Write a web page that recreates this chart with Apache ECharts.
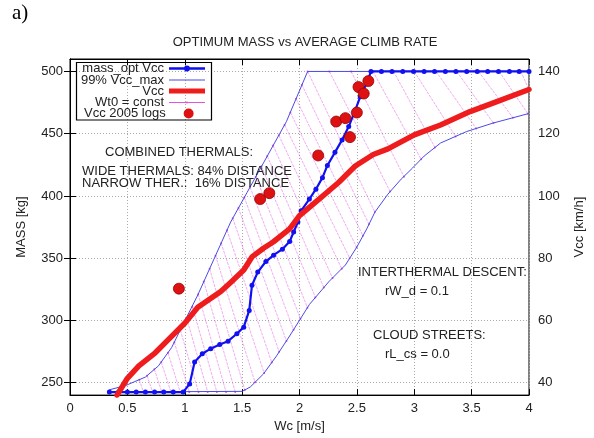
<!DOCTYPE html>
<html><head><meta charset="utf-8">
<script src="https://cdn.jsdelivr.net/npm/echarts@6/dist/echarts.min.js"></script>
<style>html,body{margin:0;padding:0;background:#fff}#c{width:594px;height:438px}</style>
</head><body><div id="c"></div><script>
// ---- data ----
const massTicks = [250, 300, 350, 400, 450, 500];
const vccTicks = [40, 60, 80, 100, 120, 140];
// mass_opt Vcc  [Wc m/s, mass kg]
const massOpt = [[0.343,242.4],[0.423,242.4],[0.5,242.4],[0.577,242.4],[0.657,242.4],[0.737,242.4],[0.817,242.4],[0.9,242.4],[0.986,242.4],[1.043,249],[1.086,266.5],[1.153,273.2],[1.226,277.3],[1.305,280.7],[1.377,283.3],[1.454,289.3],[1.514,294.6],[1.562,308],[1.586,328.3],[1.636,338.8],[1.707,347.3],[1.774,352.4],[1.851,357.2],[1.914,363.3],[1.949,371],[1.986,379],[2.014,388],[2.086,397.5],[2.143,405.4],[2.2,414.7],[2.243,424.5],[2.309,435],[2.371,445],[2.429,455.7],[2.486,469],[2.529,479.6],[2.586,490.7],[2.623,500],[2.714,500],[2.806,500],[2.9,500],[2.994,500],[3.086,500],[3.177,500],[3.271,500],[3.363,500],[3.457,500],[3.549,500],[3.64,500],[3.734,500],[3.829,500],[3.914,500],[4.0,500]];
// 99% Vcc_max band  [Wc, km/h]
const vmaxUpper = [[0.343,37.7],[0.486,39.1],[0.657,41.8],[0.771,45.4],[0.886,51.3],[1.0,59.8],[1.114,68.2],[1.257,79.9],[1.4,91.6],[1.543,101.1],[1.686,110.6],[1.886,123.9],[2.071,140],[4.0,140]];
const vmaxLower = [[0.343,37.7],[0.343,37.0],[1.5,37.2],[1.571,38.6],[1.686,42.8],[1.8,48.6],[1.914,55.0],[2.086,65.1],[2.257,72.5],[2.4,77.8],[2.5,83.6],[2.586,89.4],[2.657,94.8],[2.771,100.6],[2.886,105.4],[2.986,109.0],[3.086,112.8],[3.229,117.0],[3.457,120.7],[3.686,123.4],[4.0,126.5]];
// Vcc  [Wc, km/h]
const vcc = [[0.41,36],[0.5,41.4],[0.6,45.4],[0.743,49.6],[0.85,53.6],[1.0,59.1],[1.114,64.2],[1.314,69.3],[1.4,72.2],[1.514,76.2],[1.586,80.4],[1.686,83.2],[1.771,85.2],[1.914,89.4],[2.0,93.7],[2.171,99.0],[2.343,104.4],[2.486,109.6],[2.643,113.3],[2.771,115.1],[3.0,119.6],[3.229,122.8],[3.486,127.1],[3.714,130.2],[4.0,134.2]];
// Wt0 = const lines: start and end points [Wc, km/h]
const wt0Start = [[0.604,40.9],[0.672,42.2],[0.735,44.3],[0.795,46.6],[0.854,49.6],[0.909,53.0],[0.962,56.8],[1.016,60.8],[1.066,64.4],[1.117,68.4],[1.166,72.5],[1.217,76.6],[1.268,80.8],[1.317,84.8],[1.368,89.0],[1.418,92.8],[1.468,96.1],[1.519,99.5],[1.569,102.8],[1.619,106.2],[1.669,109.5],[1.719,112.8],[1.770,116.2],[1.820,119.5],[1.870,122.8],[1.920,126.8],[1.970,131.2],[2.021,135.7],[2.071,140],[2.26,140],[2.45,140],[2.64,140],[2.82,140],[3.00,140],[3.19,140],[3.37,140],[3.56,140],[3.74,140],[3.93,140]];
const wt0End = [[0.64,37.0],[0.72,37.0],[0.80,37.0],[0.88,37.0],[0.96,37.0],[1.04,37.0],[1.12,37.0],[1.20,37.0],[1.28,37.0],[1.36,37.0],[1.44,37.0],[1.523,37.6],[1.613,40.1],[1.692,43.1],[1.758,46.5],[1.823,49.9],[1.886,53.4],[1.948,57.0],[2.008,60.5],[2.069,64.1],[2.138,67.4],[2.212,70.6],[2.288,73.6],[2.368,76.6],[2.437,80.0],[2.498,83.5],[2.553,87.2],[2.605,90.9],[2.657,94.8],[2.79,101.4],[2.91,106.2],[3.06,111.8],[3.18,115.6],[3.36,119.1],[3.54,121.7],[3.69,123.4],[3.86,125.1],[3.99,126.4],[4.0,134]];
// Vcc 2005 logs [Wc, km/h]
const logs2005 = [[0.949,70.2],[1.657,99.0],[1.737,100.9],[2.163,113.0],[2.32,123.9],[2.4,125.0],[2.44,118.9],[2.5,126.8],[2.514,135.0],[2.56,132.9],[2.6,136.9]];

// ---- chart ----
const FONT = 'Liberation Sans';
const TXT = '#222';
const HATCH = '#e055e0';
const chart = echarts.init(document.getElementById('c'), null, {renderer: 'canvas'});

const hatchSeries = wt0Start.map((s, i) => ({
  type: 'line', name: 'Wt0 = const', xAxisIndex: 0, yAxisIndex: 1,
  data: [s, wt0End[i]], symbol: 'circle', symbolSize: 2, showSymbol: true,
  itemStyle: {color: HATCH},
  lineStyle: {color: HATCH, width: 0.9, opacity: 0.55, type: [3, 1]},
  silent: true, animation: false, z: 1
}));

// legend icons (36 x 10 boxes)
const ICON_LINE_DOT = 'path://M0,3.8 L36,3.8 L36,6.2 L0,6.2 Z M15,5 a3,3 0 1,1 6,0 a3,3 0 1,1 -6,0 Z M0,0 L0.01,0 L0.01,0.01 Z M0,10 L0.01,10 L0.01,9.99 Z';
const ICON_THIN = 'path://M0,4.6 L36,4.6 L36,5.4 L0,5.4 Z M0,0 L0.01,0 L0.01,0.01 Z M0,10 L0.01,10 L0.01,9.99 Z';
const ICON_THICK = 'path://M0,2.5 L36,2.5 L36,7.5 L0,7.5 Z M0,0 L0.01,0 L0.01,0.01 Z M0,10 L0.01,10 L0.01,9.99 Z';
const ICON_MAG = 'path://M0,4.6 L36,4.6 L36,5.4 L0,5.4 Z M17,5 a1,1 0 1,1 2,0 a1,1 0 1,1 -2,0 Z M0,0 L0.01,0 L0.01,0.01 Z M0,10 L0.01,10 L0.01,9.99 Z';
const ICON_DOT = 'path://M12.5,5 a5.5,5.5 0 1,0 11,0 a5.5,5.5 0 1,0 -11,0 Z M0,0 L0.01,0 L0.01,0.01 Z M36,10 L35.99,10 L35.99,9.99 Z';

function legendItem(name, top, icon, color) {
  return {
    data: [{name: name, icon: icon, itemStyle: {color: color, borderWidth: 0, opacity: 1}}],
    orient: 'vertical', align: 'right', right: 389, top: top,
    padding: 0, itemWidth: 36, itemHeight: 10, selectedMode: false, z: 20,
    textStyle: {fontFamily: FONT, fontSize: 13, color: TXT}
  };
}

const option = {
  animation: false,
  backgroundColor: '#fff',
  grid: {left: 70, top: 59, width: 467, height: 339, show: true, borderColor: '#000', borderWidth: 1, backgroundColor: 'transparent'},
  legend: [
    legendItem('mass_opt Vcc', 62, ICON_LINE_DOT, '#1010f0'),
    legendItem('99% Vcc_max', 73.5, ICON_THIN, '#4a4ae8'),
    legendItem('Vcc', 84.5, ICON_THICK, '#ee1c1c'),
    legendItem('Wt0 = const', 96, ICON_MAG, '#e055e0'),
    legendItem('Vcc 2005 logs', 107, ICON_DOT, '#dd1111')
  ],
  xAxis: [{
    type: 'value', min: 0, max: 4, interval: 0.5, position: 'bottom',
    name: 'Wc [m/s]', nameLocation: 'middle', nameGap: 23,
    nameTextStyle: {fontFamily: FONT, fontSize: 13, color: TXT},
    axisLine: {show: true, lineStyle: {color: '#000'}},
    axisTick: {show: true, inside: true, length: 6, lineStyle: {color: '#000'}},
    axisLabel: {fontFamily: FONT, fontSize: 13, color: TXT, margin: 7},
    splitLine: {show: true, lineStyle: {color: '#aaa', type: [1, 2], width: 1}}
  }, {
    type: 'value', min: 0, max: 4, interval: 0.5, position: 'top',
    axisLine: {show: true, lineStyle: {color: '#000'}}, axisLabel: {show: false},
    axisTick: {show: true, inside: true, length: 6, lineStyle: {color: '#000'}},
    splitLine: {show: false}
  }],
  yAxis: [{
    type: 'value', min: 240, max: 510, position: 'left',
    name: 'MASS [kg]', nameLocation: 'middle', nameGap: 42,
    nameTextStyle: {fontFamily: FONT, fontSize: 13, color: TXT},
    axisLine: {show: true, lineStyle: {color: '#000'}},
    axisTick: {show: true, inside: true, length: 6, lineStyle: {color: '#000'}, customValues: massTicks},
    axisLabel: {fontFamily: FONT, fontSize: 13, color: TXT, margin: 7, customValues: massTicks},
    splitLine: {show: true, lineStyle: {color: '#aaa', type: [1, 2], width: 1}}
  }, {
    type: 'value', min: 36, max: 144, position: 'right',
    name: 'Vcc [km/h]', nameLocation: 'middle', nameGap: 44,
    nameTextStyle: {fontFamily: FONT, fontSize: 13, color: TXT},
    axisLine: {show: true, lineStyle: {color: '#000'}},
    axisTick: {show: true, inside: true, length: 6, lineStyle: {color: '#000'}, customValues: vccTicks},
    axisLabel: {fontFamily: FONT, fontSize: 13, color: TXT, margin: 9, customValues: vccTicks},
    splitLine: {show: false}
  }],
  graphic: [
    {type: 'text', left: 12, top: 3, style: {text: 'a)', font: '21px "Liberation Serif"', fill: '#000'}},
    {type: 'text', x: 305, y: 42, style: {text: 'OPTIMUM MASS vs AVERAGE CLIMB RATE', font: '13px "Liberation Sans"', fill: TXT, align: 'center', verticalAlign: 'middle'}},
    {type: 'rect', shape: {x: 76.5, y: 62.5, width: 135, height: 57.5}, style: {fill: 'transparent', stroke: '#000', lineWidth: 1.2}, z: 60},
    {type: 'text', x: 105, y: 152, style: {text: 'COMBINED THERMALS:', font: '13px "Liberation Sans"', fill: TXT, verticalAlign: 'middle'}, z: 60},
    {type: 'text', x: 82, y: 171, style: {text: 'WIDE THERMALS: 84% DISTANCE', font: '13px "Liberation Sans"', fill: TXT, verticalAlign: 'middle'}, z: 60},
    {type: 'text', x: 82, y: 183.5, style: {text: 'NARROW THER.:  16% DISTANCE', font: '13px "Liberation Sans"', fill: TXT, verticalAlign: 'middle'}, z: 60},
    {type: 'text', x: 358, y: 272, style: {text: 'INTERTHERMAL DESCENT:', font: '13px "Liberation Sans"', fill: TXT, verticalAlign: 'middle'}, z: 60},
    {type: 'text', x: 385, y: 291, style: {text: 'rW_d = 0.1', font: '13px "Liberation Sans"', fill: TXT, verticalAlign: 'middle'}, z: 60},
    {type: 'text', x: 373, y: 335, style: {text: 'CLOUD STREETS:', font: '13px "Liberation Sans"', fill: TXT, verticalAlign: 'middle'}, z: 60},
    {type: 'text', x: 385, y: 354, style: {text: 'rL_cs = 0.0', font: '13px "Liberation Sans"', fill: TXT, verticalAlign: 'middle'}, z: 60}
  ],
  series: [
    ...hatchSeries,
    {type: 'line', name: '99% Vcc_max', yAxisIndex: 1, data: vmaxUpper, symbol: 'none',
      itemStyle: {color: '#4a4ae8'}, lineStyle: {color: '#4a4ae8', width: 1}, z: 2},
    {type: 'line', name: '99% Vcc_max', yAxisIndex: 1, data: vmaxLower, symbol: 'none',
      itemStyle: {color: '#4a4ae8'}, lineStyle: {color: '#4a4ae8', width: 1}, z: 2},
    {type: 'line', name: 'mass_opt Vcc', yAxisIndex: 0, data: massOpt, symbol: 'circle', symbolSize: 5,
      itemStyle: {color: '#1010f0'}, lineStyle: {color: '#1010f0', width: 2.2}, z: 3},
    {type: 'line', name: 'Vcc', yAxisIndex: 1, data: vcc, symbol: 'none',
      itemStyle: {color: '#ee1c1c'}, lineStyle: {color: '#ee1c1c', width: 5.5, join: 'round', cap: 'round'}, z: 4},
    {type: 'scatter', name: 'Vcc 2005 logs', yAxisIndex: 1, data: logs2005, symbol: 'circle', symbolSize: 11,
      itemStyle: {color: '#dd1111', opacity: 1, borderColor: '#990000', borderWidth: 0.8}, z: 5}
  ]
};
chart.setOption(option);
</script></body></html>
